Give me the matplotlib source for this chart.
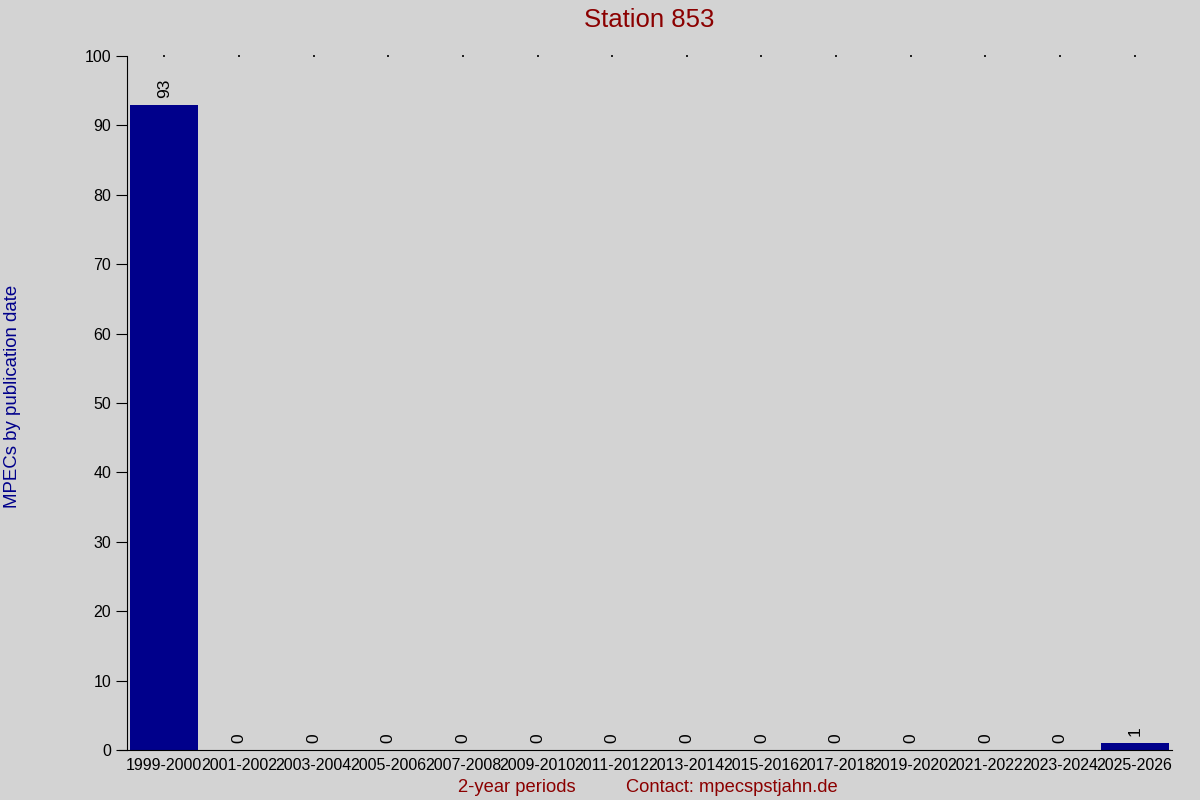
import matplotlib.pyplot as plt
import numpy as np

plt.rcParams['font.family'] = ['Liberation Sans', 'DejaVu Sans']

periods = ["1999-2000", "2001-2002", "2003-2004", "2005-2006", "2007-2008",
           "2009-2010", "2011-2012", "2013-2014", "2015-2016", "2017-2018",
           "2019-2020", "2021-2022", "2023-2024", "2025-2026"]
counts = [93, 0, 0, 0, 0, 0, 0, 0, 0, 0, 0, 0, 0, 1]

bg = '#d3d3d3'
fig = plt.figure(figsize=(12, 8), dpi=100, facecolor=bg)
ax = fig.add_axes([127 / 1200, 50 / 800, 1045 / 1200, 694 / 800])
ax.set_facecolor(bg)

x = np.arange(len(periods))
ax.bar(x, counts, width=0.91, color='#00008b')
for xi, c in zip(x, counts):
    ax.text(xi, c + 1, str(c), rotation=90, ha='center', va='bottom', fontsize=12.5)

# little dots along the top
ax.scatter(x, [100] * len(x), s=1.5, color='#222222', marker='s', linewidths=0, clip_on=False)

ax.set_xlim(-0.5, len(periods) - 0.5)
ax.set_ylim(0, 100)
ax.set_yticks(range(0, 101, 10))
ax.set_xticks(x)
ax.set_xticklabels(periods, fontsize=11.5)
ax.tick_params(axis='y', labelsize=11.5, length=8)
ax.tick_params(axis='x', length=0, pad=6)
for s in ['top', 'right']:
    ax.spines[s].set_visible(False)
ax.spines['bottom'].set_bounds(-0.61, len(periods) - 0.5)

fig.text(0.541, 0.99, "Station 853", ha='center', va='top', fontsize=18.5, color='#8b0000')
fig.text(0.003, 0.504, "MPECs by publication date", rotation=90, ha='left', va='center',
         fontsize=13.4, color='#00008b')
fig.text(517 / 1200, 0.005, "2-year periods", ha='center', va='bottom', fontsize=13.2, color='#8b0000')
fig.text(732 / 1200, 0.005, "Contact: mpecspstjahn.de", ha='center', va='bottom',
         fontsize=13.2, color='#8b0000')

fig.savefig('out.png', facecolor=bg)
